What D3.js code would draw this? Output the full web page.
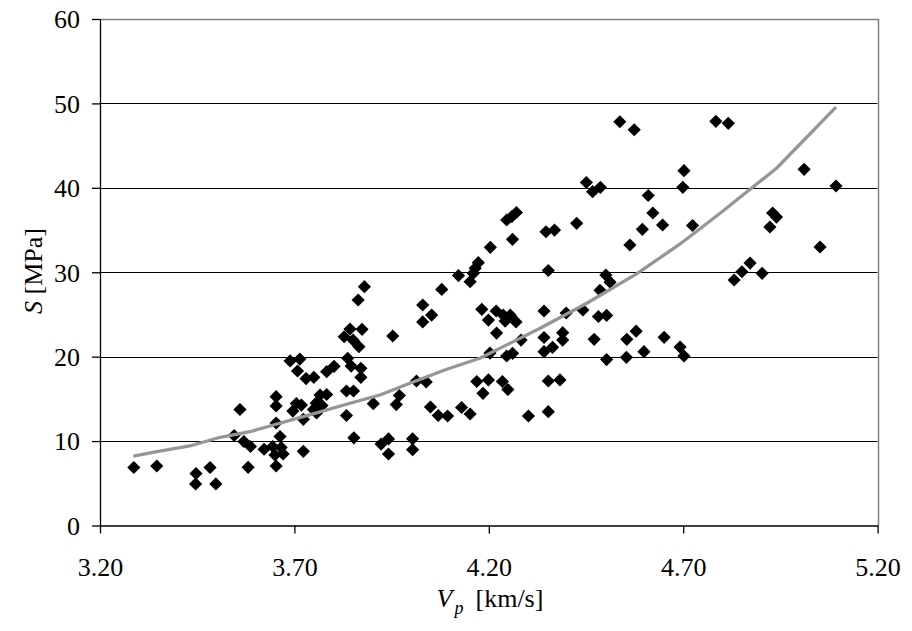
<!DOCTYPE html>
<html>
<head>
<meta charset="utf-8">
<script src="https://cdn.jsdelivr.net/npm/d3@7"></script>
<style>
  html, body { margin: 0; padding: 0; background: #fff; }
  svg { display: block; }
  text { font-family: "Liberation Serif", "Times New Roman", serif; fill: #000; }
</style>
</head>
<body>
<svg id="chart" width="912" height="631"></svg>
<script>
// ---- data ----
const vp = [
  3.287,3.346,3.447,3.446,3.483,3.498,3.560,3.545,3.570,3.587,3.581,3.622,3.653,3.653,3.653,3.689,3.708,3.714,3.730,3.750,3.783,3.802,3.837,3.846,3.871,3.871,3.834,3.852,3.880,3.864,3.843,3.874,3.828,3.851,3.866,3.953,
  3.705,3.718,3.696,3.723,3.766,3.783,3.756,3.771,3.749,3.757,3.834,3.903,3.970,3.962,3.663,3.644,3.666,3.650,3.671,3.653,3.723,3.853,3.923,3.942,3.942,4.004,4.004,
  4.030,4.053,4.030,4.079,4.122,4.152,4.160,4.165,4.173,4.204,4.261,4.246,4.259,4.271,4.014,4.039,4.050,4.070,4.094,4.130,4.152,4.169,4.199,4.185,4.235,4.249,
  4.182,4.199,4.219,4.237,4.242,4.255,4.270,4.220,4.283,4.203,4.246,4.261,4.302,
  4.342,4.399,4.442,4.482,4.503,4.342,4.364,4.342,4.390,4.390,4.471,4.353,4.383,4.353,4.347,4.369,4.353,4.426,4.451,4.467,4.487,4.501,4.512,4.486,4.537,4.574,4.610,4.622,4.595,4.647,4.563,4.724,4.702,4.699,4.555,4.579,4.599,4.503,4.554,4.651,4.692,4.702,4.784,4.816,5.011,5.093,4.930,4.940,4.923,5.052,4.872,4.851,4.831,4.903
];
const s = [
  6.87,7.05,6.16,4.92,6.87,4.92,13.74,10.66,9.95,9.36,6.89,9.03,15.26,14.16,12.14,19.49,18.30,19.72,17.41,17.55,18.22,18.86,19.81,18.89,18.62,17.55,15.93,15.93,28.29,26.71,23.28,23.24,22.36,21.97,21.18,22.45,
  14.45,14.27,13.56,12.58,15.46,15.52,14.51,14.21,13.74,13.33,13.03,14.43,15.40,14.33,10.54,9.36,9.24,8.35,8.47,7.05,8.79,10.39,9.65,10.25,8.47,10.27,8.98,
  26.12,24.93,24.11,27.96,29.61,28.88,29.87,30.47,31.13,32.95,33.90,36.19,36.60,37.08,17.12,17.00,14.04,13.03,12.97,13.98,13.21,17.06,17.24,15.66,17.06,16.11,
  25.61,24.34,25.41,24.93,24.22,24.93,24.11,22.80,21.97,20.43,20.08,20.40,12.97,
  25.41,25.17,25.53,24.76,24.88,22.27,21.11,20.59,22.84,21.97,22.06,17.12,17.24,13.48,34.80,35.00,30.21,35.80,40.63,39.54,40.06,29.67,28.82,27.86,47.83,46.88,39.09,37.02,35.09,35.60,33.23,35.54,42.03,40.06,22.06,23.02,20.59,19.66,19.92,22.29,21.14,20.08,47.88,47.64,42.19,40.22,37.02,36.54,35.36,32.99,31.09,30.06,29.08,29.87
];
const trendVp = [3.286,3.346,3.431,3.509,3.586,3.637,3.723,3.843,3.920,3.997,4.092,4.177,4.263,4.332,4.452,4.580,4.692,4.795,4.940,5.093];
const trendS  = [8.23,8.74,9.42,10.45,11.11,11.79,12.89,14.48,15.46,16.85,18.51,19.81,21.78,23.36,26.33,29.80,33.35,36.99,42.32,49.55];
const xTicks = [3.20, 3.70, 4.20, 4.70, 5.20];
const yTicks = [0, 10, 20, 30, 40, 50, 60];

// ---- layout ----
const L = 100, R = 877.6, T = 19, B = 525.5;
const FS = 26;
const svg = d3.select("#chart");
const x = d3.scaleLinear().domain([3.2, 5.2]).range([L, R]);
const y = d3.scaleLinear().domain([0, 60]).range([B, T]);

// gridlines
svg.append("g").selectAll("line")
  .data(yTicks.filter(v => v > 0 && v < 60))
  .join("line")
  .attr("x1", L).attr("x2", R)
  .attr("y1", d => Math.round(y(d)) + 0.5).attr("y2", d => Math.round(y(d)) + 0.5)
  .attr("stroke", "#000").attr("stroke-width", 1);

// plot-area border (top & right, grey)
svg.append("path")
  .attr("d", `M${L},${Math.round(T)+0.5}H${Math.round(R)+0.5}V${B}`)
  .attr("fill", "none").attr("stroke", "#808080").attr("stroke-width", 1.5);

// axes
const yAxis = d3.axisLeft(y).tickValues(yTicks).tickFormat(d3.format("d")).tickSize(8).tickSizeOuter(0).tickPadding(12);
const gy = svg.append("g").attr("transform", `translate(${L},0)`).call(yAxis);
gy.selectAll("text").style("font-size", FS + "px").attr("dy", "0.34em");

const xAxis = d3.axisBottom(x).tickValues(xTicks).tickFormat(d3.format(".2f")).tickSize(8).tickSizeOuter(0);
const gx = svg.append("g").attr("transform", `translate(0,${B})`).call(xAxis);
gx.selectAll("text").style("font-size", FS + "px").attr("y", 50).attr("dy", "0");
[gx, gy].forEach(g => {
  g.select(".domain").attr("stroke", "#000").attr("stroke-width", 1.3);
  g.selectAll(".tick line").attr("stroke", "#000").attr("stroke-width", 1.3);
});

// points (diamonds)
const pts = vp.map((v, i) => ({ vp: v, s: s[i] }));
const h = 6.6;
svg.append("g").selectAll("path")
  .data(pts)
  .join("path")
  .attr("d", d => {
    const cx = x(d.vp), cy = y(d.s);
    return `M${cx},${cy - h}L${cx + h},${cy}L${cx},${cy + h}L${cx - h},${cy}Z`;
  })
  .attr("fill", "#000");

// trend line
const trend = trendVp.map((v, i) => ({ vp: v, s: trendS[i] }));
svg.append("path")
  .datum(trend)
  .attr("d", d3.line().x(d => x(d.vp)).y(d => y(d.s)))
  .attr("fill", "none").attr("stroke", "#969696").attr("stroke-width", 3.3).attr("stroke-linejoin", "round");

// axis titles
const yt = svg.append("text")
  .attr("transform", "translate(42,271) rotate(-90)")
  .attr("text-anchor", "middle")
  .style("font-size", FS + "px");
yt.append("tspan").style("font-style", "italic").text("S");
yt.append("tspan").text(" [MPa]");

const xt = svg.append("text")
  .attr("x", 490).attr("y", 607)
  .attr("text-anchor", "middle")
  .style("font-size", FS + "px");
xt.append("tspan").style("font-style", "italic").text("V");
xt.append("tspan").style("font-style", "italic").style("font-size", "18px").attr("dy", 7).attr("dx", 2).text("p");
xt.append("tspan").attr("dy", -7).attr("dx", 12).text("[km/s]");
</script>
</body>
</html>
